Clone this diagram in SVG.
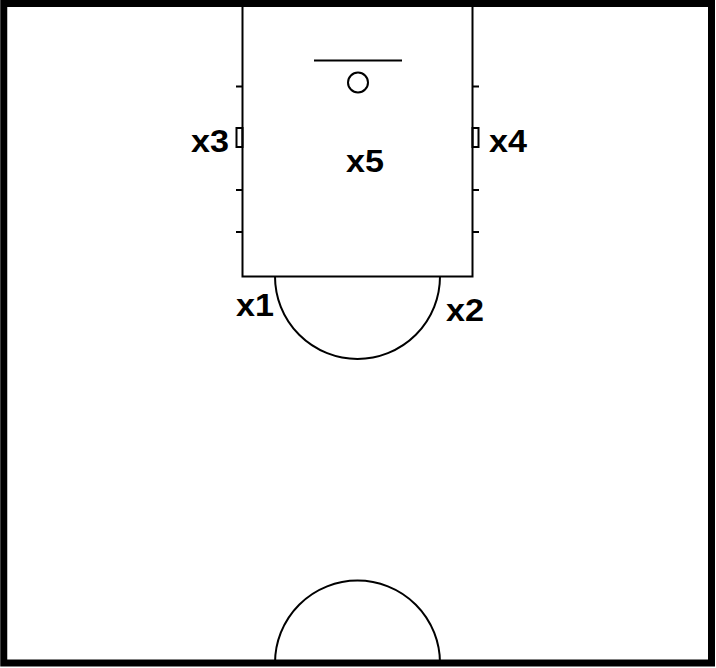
<svg xmlns="http://www.w3.org/2000/svg" width="716" height="668" viewBox="0 0 716 668">
<style>
.ln{fill:none;stroke:#000;stroke-width:2}
.lbl{font-family:"Liberation Sans",Arial,sans-serif;font-weight:bold;font-size:32px;fill:#000}
</style>
<rect x="0" y="0" width="716" height="668" fill="#fff"/>
<g id="court">
<rect x="3.75" y="3.5" width="707.75" height="659.5" fill="none" stroke="#000" stroke-width="7"/>
<rect class="ln" x="242.5" y="5" width="230" height="271.5"/>
<line class="ln" x1="314" y1="60.5" x2="402" y2="60.5"/>
<circle class="ln" cx="358" cy="82.5" r="10"/>
<path class="ln" d="M236 86.5H242.5M236 190H242.5M236 232H242.5M472.5 86.5H479M472.5 190H479M472.5 232H479"/>
<rect class="ln" x="236.5" y="128" width="6" height="19" />
<rect class="ln" x="472.5" y="128" width="6" height="19" />
<path class="ln" d="M275 276.5A82.5 82.5 0 0 0 440 276.5"/>
<path class="ln" d="M275 663A82.5 82.5 0 0 1 440 663"/>
</g>
<g id="players">
<text id="x1" class="lbl" x="236" y="316" textLength="38" lengthAdjust="spacingAndGlyphs">x1</text>
<text id="x2" class="lbl" x="446" y="321" textLength="38" lengthAdjust="spacingAndGlyphs">x2</text>
<text id="x3" class="lbl" x="191" y="152" textLength="38" lengthAdjust="spacingAndGlyphs">x3</text>
<text id="x4" class="lbl" x="489" y="152" textLength="38" lengthAdjust="spacingAndGlyphs">x4</text>
<text id="x5" class="lbl" x="346" y="172" textLength="38" lengthAdjust="spacingAndGlyphs">x5</text>
</g>
</svg>
